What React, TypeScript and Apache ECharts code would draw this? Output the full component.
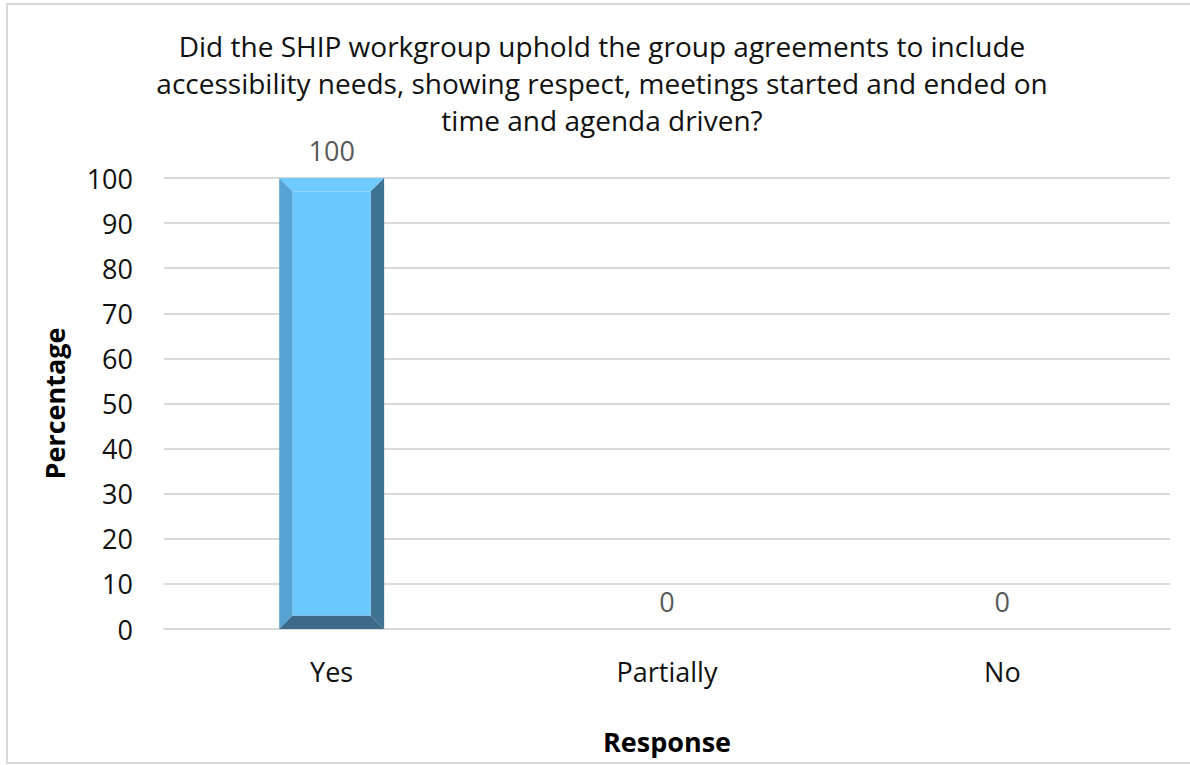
import React, { useEffect, useRef } from "react";
import * as echarts from "echarts";

const categories = ["Yes", "Partially", "No"];
const values = [100, 0, 0];
const yTicks = [0, 10, 20, 30, 40, 50, 60, 70, 80, 90, 100];
const titleLines = [
  "Did the SHIP workgroup uphold the group agreements to include",
  "accessibility needs, showing respect, meetings started and ended on",
  "time and agenda driven?",
];

const FONT = "'Open Sans', 'Noto Sans', sans-serif";
const FS = 27;

export default function App() {
  const ref = useRef<HTMLDivElement>(null);
  useEffect(() => {
    if (!ref.current) return;
    const chart = echarts.init(ref.current, undefined, { renderer: "svg" });
    const option: any = {
      animation: false,
      backgroundColor: "#ffffff",
      textStyle: { fontFamily: FONT },
      title: {
        text: titleLines.join("\n"),
        left: 597,
        top: 22,
        textAlign: "center",
        textStyle: {
          fontFamily: FONT,
          fontSize: 28,
          fontWeight: "normal",
          color: "#111111",
          lineHeight: 37,
        },
      },
      graphic: [
        {
          type: "rect",
          shape: { x: 7, y: 4, width: 1200, height: 759 },
          style: { fill: "none", stroke: "#d9d9d9", lineWidth: 2 },
          z: -1,
        },
      ],
      grid: { left: 164, right: 20, top: 178, bottom: 136 },
      xAxis: {
        type: "category",
        data: categories,
        name: "Response",
        nameLocation: "middle",
        nameGap: 99,
        nameTextStyle: { fontFamily: FONT, fontSize: FS, fontWeight: "bold", color: "#000" },
        axisLine: { show: true, lineStyle: { color: "#d9d9d9", width: 2 } },
        axisTick: { show: false },
        axisLabel: { fontFamily: FONT, fontSize: FS, color: "#111", margin: 29 },
      },
      yAxis: {
        type: "value",
        min: yTicks[0],
        max: yTicks[yTicks.length - 1],
        interval: 10,
        name: "Percentage",
        nameLocation: "middle",
        nameGap: 96,
        nameTextStyle: { fontFamily: FONT, fontSize: FS, fontWeight: "bold", color: "#000" },
        axisLine: { show: false },
        axisTick: { show: false },
        splitLine: { lineStyle: { color: "#d9d9d9", width: 2 } },
        axisLabel: { fontFamily: FONT, fontSize: FS, color: "#111", margin: 31 },
      },
      series: [
        {
          type: "custom",
          data: values.map((v, i) => [i, v]),
          encode: { x: 0, y: 1 },
          renderItem: (params: any, api: any) => {
            const idx = api.value(0);
            const val = api.value(1);
            const top = api.coord([idx, val]);
            const base = api.coord([idx, 0]);
            const bandW = api.size([1, 0])[0];
            const w = bandW * 0.313;
            const L = top[0] - w / 2;
            const R = top[0] + w / 2;
            const T = top[1];
            const B = base[1];
            const children: any[] = [];
            if (B - T > 1) {
              const b = Math.min(13.5, (B - T) / 2);
              const l = L + b, r = R - b, t = T + b, bo = B - b;
              children.push(
                { type: "polygon", shape: { points: [[L, T], [R, T], [r, t], [l, t]] }, style: { fill: "#6fcbff" } },
                { type: "polygon", shape: { points: [[L, T], [l, t], [l, bo], [L, B]] }, style: { fill: "#57a4d4" } },
                { type: "polygon", shape: { points: [[R, T], [R, B], [r, bo], [r, t]] }, style: { fill: "#3e7291" } },
                { type: "polygon", shape: { points: [[L, B], [R, B], [r, bo], [l, bo]] }, style: { fill: "#3d6a87" } },
                { type: "rect", shape: { x: l, y: t, width: r - l, height: bo - t }, style: { fill: "#6ac8fd" } }
              );
            }
            children.push({
              type: "text",
              x: top[0],
              y: T - 28,
              style: {
                text: String(val),
                fontFamily: FONT,
                fontSize: FS,
                fill: "#595959",
                align: "center",
                verticalAlign: "middle",
              },
            });
            return { type: "group", children };
          },
        },
      ],
    };
    chart.setOption(option);
    return () => chart.dispose();
  }, []);
  return (
    <div
      ref={ref}
      style={{ position: "fixed", left: 0, top: 0, width: 1190, height: 765 }}
    />
  );
}
